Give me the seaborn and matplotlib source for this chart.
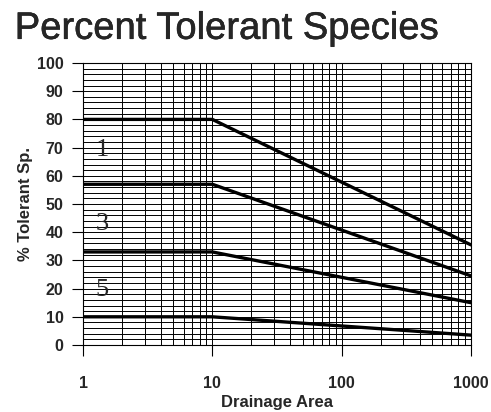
import numpy as np
import pandas as pd
import seaborn as sns
import matplotlib.pyplot as plt
import matplotlib.patheffects as pe
from matplotlib.ticker import LogLocator, MultipleLocator, FixedLocator

# Datos
area = [1, 10, 1000]
linea_1 = [80, 80, 35.5]
linea_2 = [57, 57, 24.5]
linea_3 = [33, 33, 15]
linea_4 = [10, 10, 3.5]
etiquetas = ["1", "3", "5"]
etiqueta_y = [69, 43, 19.5]

df = pd.concat([
    pd.DataFrame({"area": area, "pct": linea_1, "serie": "a"}),
    pd.DataFrame({"area": area, "pct": linea_2, "serie": "b"}),
    pd.DataFrame({"area": area, "pct": linea_3, "serie": "c"}),
    pd.DataFrame({"area": area, "pct": linea_4, "serie": "d"}),
])

sns.set_style("white")
plt.rcParams["font.family"] = ["Liberation Sans", "DejaVu Sans"]

fig = plt.figure(figsize=(4.91, 4.12), dpi=100)
ax = fig.add_axes([83 / 491, 1 - 345 / 412, 388 / 491, 282 / 412])

sns.lineplot(data=df, x="area", y="pct", hue="serie",
             palette=["black"] * 4, linewidth=2.4, legend=False, ax=ax)

ax.set_xscale("log")
ax.set_xlim(1, 1000)
ax.set_ylim(0, 100)

# Rejilla
ax.xaxis.set_major_locator(FixedLocator([1, 10, 100, 1000]))
ax.xaxis.set_minor_locator(LogLocator(base=10, subs=np.arange(2, 10)))
ax.yaxis.set_major_locator(MultipleLocator(10))
ax.yaxis.set_minor_locator(MultipleLocator(2))
ax.grid(True, which="both", color="black", linewidth=0.7)
ax.set_axisbelow(True)

ax.set_xticklabels(["1", "10", "100", "1000"])
ax.tick_params(axis="both", which="major", direction="out", length=8,
               width=0.8, color="black", labelsize=11.5, pad=6,
               bottom=True, left=True)
ax.tick_params(axis="x", which="major", pad=14)
ax.tick_params(axis="both", which="minor", length=0)
for t in ax.get_xticklabels() + ax.get_yticklabels():
    t.set_fontweight("bold")

for s in ax.spines.values():
    s.set_color("black")
    s.set_linewidth(0.8)

for txt, yv in zip(etiquetas, etiqueta_y):
    ax.text(1.4, yv, txt, family=["Liberation Serif", "DejaVu Serif"],
            fontsize=19, ha="center", va="center")

ax.set_xlabel("Drainage Area", fontsize=12, fontweight="bold", labelpad=3)
ax.set_ylabel("% Tolerant Sp.", fontsize=12, fontweight="bold", labelpad=3)

titulo = fig.text(0.03, 0.93, "Percent Tolerant Species", fontsize=27.5,
                  ha="left", va="center")
titulo.set_path_effects([pe.withStroke(linewidth=0.35, foreground="black")])

fig.savefig("out.png", dpi=100)
